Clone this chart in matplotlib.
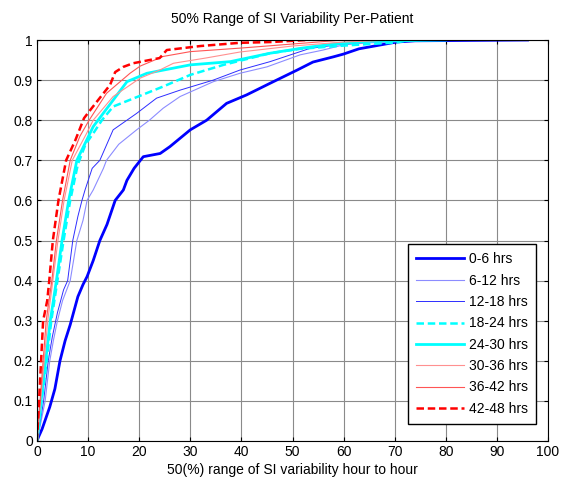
import matplotlib as mp
mp.use("Agg")
import matplotlib.pyplot as pyplot
from collections import OrderedDict

mp.rcParams['font.family'] = ['Liberation Sans', 'DejaVu Sans']
mp.rcParams['font.size'] = 10

# values (x = 50% range, y = cumulative fraction)
x_0_6 = [0, 0.3, 1.0, 2.5, 3.5, 4.5, 5.5, 6.5, 8.0, 9.0, 9.8, 11.0, 12.3, 13.7, 15.3, 16.9,
         17.6, 19.0, 20.8, 24.1, 26.0, 30.0, 33.2, 37.1, 41.0, 45.6, 50.9, 54.0, 58.0, 60.0,
         63.0, 70.4, 74.0, 96.0]
y_0_6 = [0, 0.01, 0.03, 0.085, 0.13, 0.2, 0.25, 0.29, 0.36, 0.39, 0.41, 0.45, 0.50, 0.54, 0.60,
         0.626, 0.65, 0.68, 0.709, 0.717, 0.734, 0.776, 0.80, 0.842, 0.863, 0.892, 0.925, 0.945,
         0.958, 0.965, 0.978, 0.995, 0.998, 1.0]

x_6_12 = [0, 0.5, 1.6, 2.5, 3.2, 4.0, 5.0, 6.5, 7.8, 9.0, 9.8, 11.0, 13.0, 13.6, 16.0, 19.5,
          22.0, 24.7, 28.0, 34.5, 39.7, 45.0, 51.5, 56.0, 60.0, 65.0, 71.0, 76.0]
y_6_12 = [0, 0.03, 0.1, 0.2, 0.25, 0.3, 0.35, 0.4, 0.5, 0.55, 0.6, 0.626, 0.68, 0.70, 0.74,
          0.776, 0.80, 0.83, 0.859, 0.896, 0.917, 0.933, 0.963, 0.975, 0.988, 0.993, 0.996, 1.0]

x_12_18 = [0, 0.4, 1.3, 2.2, 3.0, 4.0, 5.2, 6.0, 7.0, 8.0, 8.8, 9.4, 10.8, 12.3, 14.9, 19.5,
           23.4, 28.0, 34.5, 39.7, 45.6, 53.4, 60.0, 65.0, 71.0]
y_12_18 = [0, 0.03, 0.1, 0.2, 0.26, 0.32, 0.377, 0.4, 0.5, 0.56, 0.6, 0.626, 0.68, 0.70, 0.776,
           0.817, 0.855, 0.875, 0.90, 0.925, 0.946, 0.979, 0.99, 0.996, 1.0]

x_18_24 = [0, 0.3, 0.9, 1.9, 2.8, 4.0, 5.2, 6.5, 8.0, 9.5, 11.0, 12.7, 14.9, 19.8, 24.7, 30.0,
           36.5, 45.6, 51.5, 60.0, 70.4, 73.0]
y_18_24 = [0, 0.03, 0.1, 0.2, 0.3, 0.4, 0.5, 0.6, 0.69, 0.74, 0.767, 0.80, 0.834, 0.859, 0.884,
           0.913, 0.938, 0.967, 0.978, 0.986, 0.994, 1.0]

x_24_30 = [0, 0.3, 0.8, 1.7, 2.6, 3.8, 4.9, 6.2, 7.8, 11.0, 14.9, 17.6, 21.5, 30.0, 37.8, 45.6,
           52.0, 58.0, 65.0, 80.0]
y_24_30 = [0, 0.03, 0.1, 0.2, 0.3, 0.4, 0.5, 0.6, 0.7, 0.784, 0.85, 0.896, 0.917, 0.938, 0.946,
           0.967, 0.98, 0.99, 0.997, 1.0]

x_30_36 = [0, 0.3, 0.7, 1.4, 2.1, 3.1, 4.1, 5.3, 6.9, 9.7, 11.0, 14.9, 20.2, 24.0, 26.7, 33.0,
           39.7, 50.0, 60.0, 70.0]
y_30_36 = [0, 0.04, 0.1, 0.2, 0.3, 0.4, 0.5, 0.6, 0.7, 0.767, 0.8, 0.859, 0.905, 0.925, 0.942,
           0.955, 0.97, 0.985, 0.995, 1.0]

x_36_42 = [0, 0.2, 0.6, 1.2, 1.8, 2.9, 3.8, 5.0, 6.5, 8.4, 10.2, 13.6, 18.2, 20.2, 24.7, 30.0,
           40.0, 50.0, 55.0, 60.0]
y_36_42 = [0, 0.04, 0.1, 0.2, 0.3, 0.4, 0.5, 0.6, 0.7, 0.76, 0.8, 0.867, 0.917, 0.935, 0.959,
           0.971, 0.98, 0.99, 0.995, 1.0]

x_42_48 = [0, 0.2, 0.4, 0.8, 1.2, 2.0, 2.4, 3.1, 4.2, 5.7, 7.5, 9.2, 10.4, 13.0, 14.3, 15.3,
           16.9, 18.8, 24.0, 25.4, 32.0, 39.7, 46.0, 52.8]
y_42_48 = [0, 0.05, 0.1, 0.2, 0.3, 0.35, 0.4, 0.5, 0.6, 0.7, 0.75, 0.805, 0.825, 0.867, 0.888,
           0.92, 0.933, 0.942, 0.955, 0.975, 0.985, 0.993, 0.995, 1.0]

# label : [x data, y data, colour, line style, width]
series = OrderedDict([
    ("0-6 hrs", [x_0_6, y_0_6, "#0000ff", "-", 2.0]),
    ("6-12 hrs", [x_6_12, y_6_12, "#8c8cff", "-", 0.8]),
    ("12-18 hrs", [x_12_18, y_12_18, "#2d2dff", "-", 0.7]),
    ("18-24 hrs", [x_18_24, y_18_24, "#00ffff", "--", 1.8]),
    ("24-30 hrs", [x_24_30, y_24_30, "#00ffff", "-", 2.0]),
    ("30-36 hrs", [x_30_36, y_30_36, "#ff9090", "-", 0.8]),
    ("36-42 hrs", [x_36_42, y_36_42, "#ff5555", "-", 0.8]),
    ("42-48 hrs", [x_42_48, y_42_48, "#ff0000", "--", 1.8]),
])

fig = pyplot.figure(figsize=(5.63, 4.84), dpi=100)
axis = fig.add_axes([37 / 563, 43 / 484, 511 / 563, 401 / 484])

for name in series:
    xs, ys, col, ls, lw = series[name]
    axis.plot(xs, ys, color=col, linestyle=ls, linewidth=lw, label=name,
              dashes=(3, 1.5) if ls == "--" else (None, None))

axis.set_xlim(0, 100)
axis.set_ylim(0, 1)
axis.set_xticks(range(0, 101, 10))
axis.set_yticks([i / 10 for i in range(11)])
axis.set_yticklabels(["0", "0.1", "0.2", "0.3", "0.4", "0.5", "0.6", "0.7", "0.8", "0.9", "1"])
axis.grid(True, color="#8a8a8a", linewidth=0.8)
axis.set_axisbelow(True)
axis.tick_params(direction="in", length=3, top=True, right=True, pad=3)
for s in axis.spines.values():
    s.set_linewidth(0.8)

axis.set_title("50% Range of SI Variability Per-Patient", fontsize=10, pad=12)
axis.set_xlabel("50(%) range of SI variability hour to hour", fontsize=10, labelpad=3)

leg = axis.legend(loc="lower right", bbox_to_anchor=(0.977, 0.042), borderaxespad=0,
                  fancybox=False, framealpha=1, edgecolor="black", handlelength=3.45,
                  labelspacing=0.53, handletextpad=0.35, borderpad=0.6, fontsize=10)
leg.get_frame().set_linewidth(1.0)

pyplot.savefig("out.png", dpi=100)
